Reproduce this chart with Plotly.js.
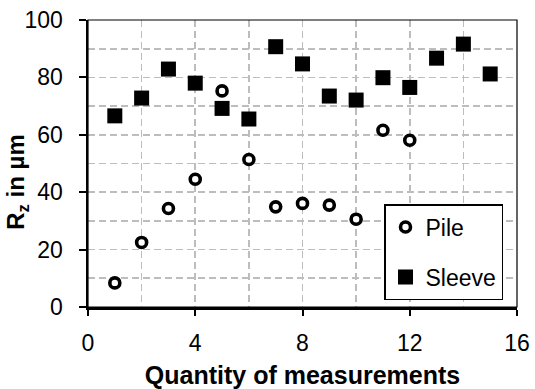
<!DOCTYPE html>
<html>
<head>
<meta charset="utf-8">
<script src="https://cdn.plot.ly/plotly-3.0.1.min.js"></script>
<style>html,body{margin:0;padding:0;background:#fff;}#chart{width:535px;height:389px;}</style>
</head>
<body>
<div id="chart"></div>
<script>
const pileX = [1, 2, 3, 4, 5, 6, 7, 8, 9, 10, 11, 12];
const pileY = [8.4, 22.5, 34.3, 44.5, 75.3, 51.4, 34.9, 36.1, 35.5, 30.6, 61.6, 58.1];
const sleeveX = [1, 2, 3, 4, 5, 6, 7, 8, 9, 10, 11, 12, 13, 14, 15];
const sleeveY = [66.6, 72.8, 82.9, 78.0, 69.2, 65.5, 90.7, 84.7, 73.5, 72.1, 79.9, 76.5, 86.7, 91.6, 81.2];
const seriesNames = ["Pile", "Sleeve"];
const xTitle = "Quantity of measurements";
const yTitle = "R<sub>z</sub> in µm";

const FONT = "Liberation Sans, Arial, sans-serif";

const traces = [
  {
    x: pileX, y: pileY, name: seriesNames[0], type: "scatter", mode: "markers",
    legendgroup: "a",
    marker: {symbol: "circle", size: 10, color: "#ffffff", line: {color: "#000000", width: 3.6}}
  },
  {
    x: sleeveX, y: sleeveY, name: seriesNames[1], type: "scatter", mode: "markers",
    legendgroup: "b",
    marker: {symbol: "square", size: 15, color: "#000000", line: {width: 0}}
  }
];

const gridStyle = {color: "#bdbdbd", width: 1.6, dash: "7px,4px"};

const layout = {
  width: 535, height: 389,
  margin: {l: 88, r: 18, t: 20, b: 82},
  paper_bgcolor: "#ffffff", plot_bgcolor: "#ffffff",
  font: {family: FONT, color: "#000000", size: 22},
  showlegend: true,
  legend: {
    x: 0.69, y: 0.024, xanchor: "left", yanchor: "bottom",
    bgcolor: "#ffffff", bordercolor: "#000000", borderwidth: 1.5,
    font: {family: FONT, size: 23, color: "#000000"},
    tracegroupgap: 17, itemwidth: 30
  },
  xaxis: {
    range: [0, 16], dtick: 4, tick0: 0,
    showgrid: true, gridcolor: gridStyle.color, gridwidth: gridStyle.width, griddash: gridStyle.dash,
    minor: {dtick: 2, showgrid: true, gridcolor: gridStyle.color, gridwidth: gridStyle.width, griddash: gridStyle.dash, ticks: ""},
    zeroline: false, showline: true, linecolor: "#000000", linewidth: 3,
    ticks: "outside", ticklen: 6, tickwidth: 2, tickcolor: "#000000",
    ticklabelstandoff: 7,
    tickfont: {family: FONT, size: 23, color: "#000000"},
    title: {text: xTitle, font: {family: FONT, size: 25, weight: "bold", color: "#000000"}, standoff: 16},
    automargin: false, fixedrange: true
  },
  yaxis: {
    range: [0, 100], dtick: 20, tick0: 0,
    showgrid: true, gridcolor: gridStyle.color, gridwidth: gridStyle.width, griddash: gridStyle.dash,
    minor: {dtick: 10, showgrid: true, gridcolor: gridStyle.color, gridwidth: gridStyle.width, griddash: gridStyle.dash, ticks: ""},
    zeroline: false, showline: true, linecolor: "#000000", linewidth: 2.5,
    ticks: "outside", ticklen: 7, tickwidth: 2, tickcolor: "#000000",
    ticklabelstandoff: 11,
    tickfont: {family: FONT, size: 23, color: "#000000"},
    automargin: false, fixedrange: true
  },
  shapes: [
    {type: "rect", xref: "paper", yref: "paper", x0: 0, x1: 1, y0: 0, y1: 1,
     line: {color: "#000000", width: 1.2}, fillcolor: "rgba(0,0,0,0)", layer: "above"}
  ],
  annotations: [
    {text: yTitle, xref: "paper", yref: "paper", x: -0.165, y: 0.437,
     xanchor: "center", yanchor: "middle", textangle: -90, showarrow: false,
     font: {family: FONT, size: 24, weight: "bold", color: "#000000"}}
  ]
};

Plotly.newPlot("chart", traces, layout, {staticPlot: true, displayModeBar: false});
</script>
</body>
</html>
